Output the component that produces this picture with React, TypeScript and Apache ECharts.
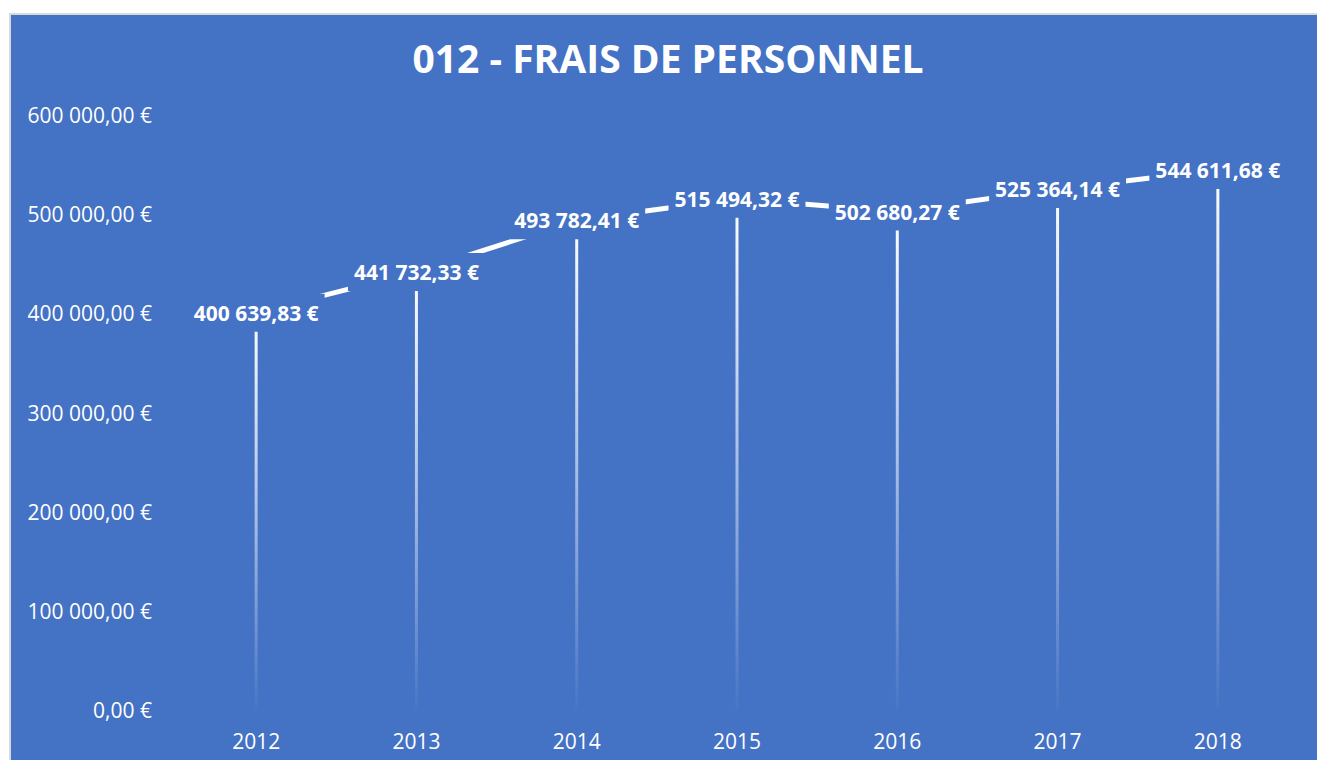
import React, { useEffect, useRef } from "react";
import * as echarts from "echarts";

const TITLE = "012 - FRAIS DE PERSONNEL";
const YEARS = ["2012", "2013", "2014", "2015", "2016", "2017", "2018"];
const VALUES = [400639.83, 441732.33, 493782.41, 515494.32, 502680.27, 525364.14, 544611.68];
const Y_MIN = 0;
const Y_MAX = 600000;
const Y_STEP = 100000;

const BG = "#4472C4";
const FONT = "'Open Sans', 'Noto Sans', sans-serif";

function fmtEuro(v: number): string {
  const [i, d] = v.toFixed(2).split(".");
  return i.replace(/\B(?=(\d{3})+(?!\d))/g, " ") + "," + d + " €";
}

export default function App() {
  const ref = useRef<HTMLDivElement>(null);
  useEffect(() => {
    if (!ref.current) return;
    const chart = echarts.init(ref.current, undefined, { renderer: "svg" });
    chart.setOption({
      animation: false,
      backgroundColor: BG,
      title: {
        text: TITLE,
        left: 657,
        textAlign: "center",
        top: 23,
        padding: 0,
        textStyle: { color: "#fff", fontFamily: FONT, fontWeight: "bold", fontSize: 39 },
      },
      grid: { left: 165, right: 19, top: 100, bottom: 50 },
      xAxis: {
        type: "category",
        data: YEARS,
        axisLine: { show: false },
        axisTick: { show: false },
        axisLabel: { color: "#fff", fontFamily: FONT, fontSize: 21, margin: 20 },
      },
      yAxis: {
        type: "value",
        min: Y_MIN,
        max: Y_MAX,
        interval: Y_STEP,
        splitLine: { show: false },
        axisLine: { show: false },
        axisTick: { show: false },
        axisLabel: {
          color: "#fff",
          fontFamily: FONT,
          fontSize: 21,
          margin: 24,
          formatter: (v: number) => fmtEuro(v),
        },
      },
      series: [
        {
          type: "bar",
          data: VALUES,
          barWidth: 3,
          z: 2,
          silent: true,
          itemStyle: {
            color: new echarts.graphic.LinearGradient(0, 0, 0, 1, [
              { offset: 0, color: "rgba(255,255,255,1)" },
              { offset: 0.5, color: "rgba(255,255,255,0.55)" },
              { offset: 1, color: "rgba(255,255,255,0.02)" },
            ]),
          },
        },
        {
          type: "line",
          data: VALUES,
          z: 3,
          symbol: "circle",
          symbolSize: 1,
          itemStyle: { color: "rgba(255,255,255,0)" },
          lineStyle: { color: "#fff", width: 5 },
          label: {
            show: true,
            position: "inside",
            color: "#fff",
            fontFamily: FONT,
            fontWeight: "bold",
            fontSize: 21,
            lineHeight: 22,
            backgroundColor: BG,
            padding: [8, 6],
            formatter: (p: any) => fmtEuro(p.value),
          },
        },
      ],
    });
    return () => chart.dispose();
  }, []);

  return (
    <div
      style={{
        position: "absolute",
        left: 9,
        top: 13,
        borderTop: "2px solid #d9d9d9",
        borderLeft: "2px solid #d9d9d9",
        width: 1306,
        height: 745,
        overflow: "hidden",
      }}
    >
      <div ref={ref} style={{ width: 1306, height: 745 }} />
    </div>
  );
}
